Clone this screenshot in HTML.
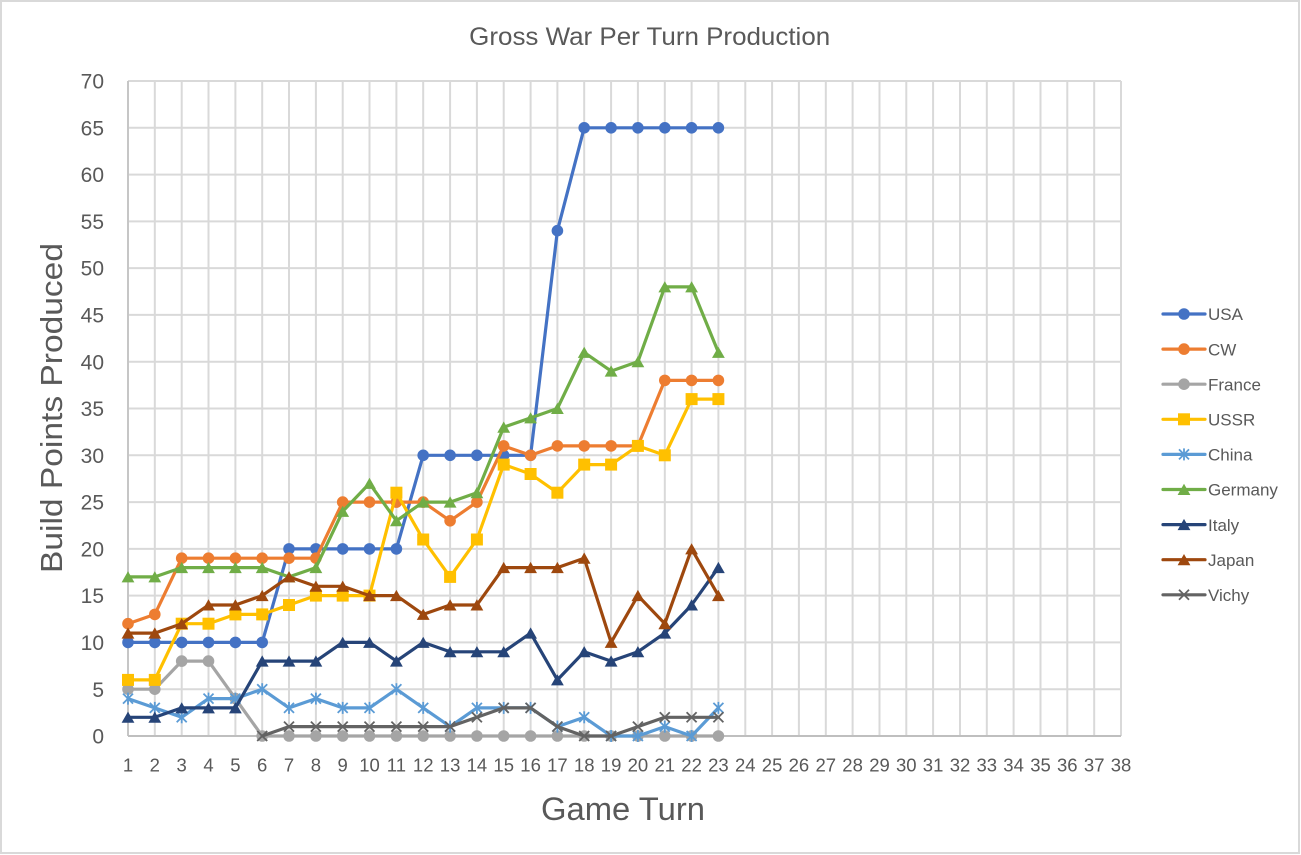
<!DOCTYPE html>
<html>
<head>
<meta charset="utf-8">
<style>
  html,body{margin:0;padding:0;background:#fff;}
  svg{display:block;}
  text{font-family:"Liberation Sans", "DejaVu Sans", sans-serif; fill:#595959;}
</style>
</head>
<body>
<svg width="1301" height="855" viewBox="0 0 1301 855" xmlns="http://www.w3.org/2000/svg">
  <defs>
    <marker id="mUSA" markerUnits="userSpaceOnUse" markerWidth="16" markerHeight="16" refX="8" refY="8" viewBox="0 0 16 16" overflow="visible"><circle cx="8" cy="8" r="5.8" fill="#4472C4"/></marker>
    <marker id="mCW" markerUnits="userSpaceOnUse" markerWidth="16" markerHeight="16" refX="8" refY="8" viewBox="0 0 16 16" overflow="visible"><circle cx="8" cy="8" r="5.8" fill="#ED7D31"/></marker>
    <marker id="mFR" markerUnits="userSpaceOnUse" markerWidth="16" markerHeight="16" refX="8" refY="8" viewBox="0 0 16 16" overflow="visible"><circle cx="8" cy="8" r="5.8" fill="#A5A5A5"/></marker>
    <marker id="mUSSR" markerUnits="userSpaceOnUse" markerWidth="16" markerHeight="16" refX="8" refY="8" viewBox="0 0 16 16" overflow="visible"><rect x="2" y="2" width="12" height="12" fill="#FFC000"/></marker>
    <marker id="mCH" markerUnits="userSpaceOnUse" markerWidth="16" markerHeight="16" refX="8" refY="8" viewBox="0 0 16 16" overflow="visible"><g stroke="#5B9BD5" stroke-width="1.8" fill="none"><line x1="3" y1="3" x2="13" y2="13"/><line x1="13" y1="3" x2="3" y2="13"/><line x1="8" y1="2" x2="8" y2="14"/></g></marker>
    <marker id="mGE" markerUnits="userSpaceOnUse" markerWidth="16" markerHeight="16" refX="8" refY="8" viewBox="0 0 16 16" overflow="visible"><polygon points="8,2.3 14.4,13.5 1.6,13.5" fill="#70AD47"/></marker>
    <marker id="mIT" markerUnits="userSpaceOnUse" markerWidth="16" markerHeight="16" refX="8" refY="8" viewBox="0 0 16 16" overflow="visible"><polygon points="8,2.3 14.4,13.5 1.6,13.5" fill="#264478"/></marker>
    <marker id="mJP" markerUnits="userSpaceOnUse" markerWidth="16" markerHeight="16" refX="8" refY="8" viewBox="0 0 16 16" overflow="visible"><polygon points="8,2.3 14.4,13.5 1.6,13.5" fill="#9E480E"/></marker>
    <marker id="mVI" markerUnits="userSpaceOnUse" markerWidth="16" markerHeight="16" refX="8" refY="8" viewBox="0 0 16 16" overflow="visible"><g stroke="#636363" stroke-width="1.8" fill="none"><line x1="3" y1="3" x2="13" y2="13"/><line x1="13" y1="3" x2="3" y2="13"/></g></marker>
  </defs>

  <!-- outer border -->
  <rect x="1" y="1" width="1298" height="852" fill="#fff" stroke="#d9d9d9" stroke-width="2"/>

  <!-- title -->
  <text x="649.7" y="45" font-size="25" text-anchor="middle" textLength="361" lengthAdjust="spacingAndGlyphs">Gross War Per Turn Production</text>

  <!-- horizontal gridlines -->
  <g stroke="#d9d9d9" stroke-width="2">
    <line x1="128" y1="81" x2="1121" y2="81"/>
    <line x1="128" y1="127.8" x2="1121" y2="127.8"/>
    <line x1="128" y1="174.6" x2="1121" y2="174.6"/>
    <line x1="128" y1="221.4" x2="1121" y2="221.4"/>
    <line x1="128" y1="268.1" x2="1121" y2="268.1"/>
    <line x1="128" y1="314.9" x2="1121" y2="314.9"/>
    <line x1="128" y1="361.7" x2="1121" y2="361.7"/>
    <line x1="128" y1="408.5" x2="1121" y2="408.5"/>
    <line x1="128" y1="455.3" x2="1121" y2="455.3"/>
    <line x1="128" y1="502.1" x2="1121" y2="502.1"/>
    <line x1="128" y1="548.9" x2="1121" y2="548.9"/>
    <line x1="128" y1="595.6" x2="1121" y2="595.6"/>
    <line x1="128" y1="642.4" x2="1121" y2="642.4"/>
    <line x1="128" y1="689.2" x2="1121" y2="689.2"/>
  </g>
  <!-- vertical gridlines -->
  <g stroke="#d9d9d9" stroke-width="2">
    <line x1="154.8" y1="81" x2="154.8" y2="736"/>
    <line x1="181.7" y1="81" x2="181.7" y2="736"/>
    <line x1="208.5" y1="81" x2="208.5" y2="736"/>
    <line x1="235.4" y1="81" x2="235.4" y2="736"/>
    <line x1="262.2" y1="81" x2="262.2" y2="736"/>
    <line x1="289" y1="81" x2="289" y2="736"/>
    <line x1="315.9" y1="81" x2="315.9" y2="736"/>
    <line x1="342.7" y1="81" x2="342.7" y2="736"/>
    <line x1="369.5" y1="81" x2="369.5" y2="736"/>
    <line x1="396.4" y1="81" x2="396.4" y2="736"/>
    <line x1="423.2" y1="81" x2="423.2" y2="736"/>
    <line x1="450.1" y1="81" x2="450.1" y2="736"/>
    <line x1="476.9" y1="81" x2="476.9" y2="736"/>
    <line x1="503.7" y1="81" x2="503.7" y2="736"/>
    <line x1="530.6" y1="81" x2="530.6" y2="736"/>
    <line x1="557.4" y1="81" x2="557.4" y2="736"/>
    <line x1="584.2" y1="81" x2="584.2" y2="736"/>
    <line x1="611.1" y1="81" x2="611.1" y2="736"/>
    <line x1="637.9" y1="81" x2="637.9" y2="736"/>
    <line x1="664.8" y1="81" x2="664.8" y2="736"/>
    <line x1="691.6" y1="81" x2="691.6" y2="736"/>
    <line x1="718.4" y1="81" x2="718.4" y2="736"/>
    <line x1="745.3" y1="81" x2="745.3" y2="736"/>
    <line x1="772.1" y1="81" x2="772.1" y2="736"/>
    <line x1="798.9" y1="81" x2="798.9" y2="736"/>
    <line x1="825.8" y1="81" x2="825.8" y2="736"/>
    <line x1="852.6" y1="81" x2="852.6" y2="736"/>
    <line x1="879.5" y1="81" x2="879.5" y2="736"/>
    <line x1="906.3" y1="81" x2="906.3" y2="736"/>
    <line x1="933.1" y1="81" x2="933.1" y2="736"/>
    <line x1="960" y1="81" x2="960" y2="736"/>
    <line x1="986.8" y1="81" x2="986.8" y2="736"/>
    <line x1="1013.6" y1="81" x2="1013.6" y2="736"/>
    <line x1="1040.5" y1="81" x2="1040.5" y2="736"/>
    <line x1="1067.3" y1="81" x2="1067.3" y2="736"/>
    <line x1="1094.2" y1="81" x2="1094.2" y2="736"/>
    <line x1="1121" y1="81" x2="1121" y2="736"/>
  </g>
  <!-- axes -->
  <line x1="128" y1="81" x2="128" y2="736" stroke="#c6c6c6" stroke-width="2"/>
  <line x1="128" y1="736" x2="1121" y2="736" stroke="#bfbfbf" stroke-width="2"/>

  <!-- y tick labels -->
  <g font-size="21" text-anchor="end">
    <text x="104" y="88.6">70</text>
    <text x="104" y="135.4">65</text>
    <text x="104" y="182.2">60</text>
    <text x="104" y="229">55</text>
    <text x="104" y="275.7">50</text>
    <text x="104" y="322.5">45</text>
    <text x="104" y="369.3">40</text>
    <text x="104" y="416.1">35</text>
    <text x="104" y="462.9">30</text>
    <text x="104" y="509.7">25</text>
    <text x="104" y="556.5">20</text>
    <text x="104" y="603.2">15</text>
    <text x="104" y="650">10</text>
    <text x="104" y="696.8">5</text>
    <text x="104" y="743.6">0</text>
  </g>

  <!-- x tick labels -->
  <g font-size="18.5" text-anchor="middle">
    <text x="128" y="771.5">1</text>
    <text x="154.8" y="771.5">2</text>
    <text x="181.7" y="771.5">3</text>
    <text x="208.5" y="771.5">4</text>
    <text x="235.4" y="771.5">5</text>
    <text x="262.2" y="771.5">6</text>
    <text x="289" y="771.5">7</text>
    <text x="315.9" y="771.5">8</text>
    <text x="342.7" y="771.5">9</text>
    <text x="369.5" y="771.5">10</text>
    <text x="396.4" y="771.5">11</text>
    <text x="423.2" y="771.5">12</text>
    <text x="450.1" y="771.5">13</text>
    <text x="476.9" y="771.5">14</text>
    <text x="503.7" y="771.5">15</text>
    <text x="530.6" y="771.5">16</text>
    <text x="557.4" y="771.5">17</text>
    <text x="584.2" y="771.5">18</text>
    <text x="611.1" y="771.5">19</text>
    <text x="637.9" y="771.5">20</text>
    <text x="664.8" y="771.5">21</text>
    <text x="691.6" y="771.5">22</text>
    <text x="718.4" y="771.5">23</text>
    <text x="745.3" y="771.5">24</text>
    <text x="772.1" y="771.5">25</text>
    <text x="798.9" y="771.5">26</text>
    <text x="825.8" y="771.5">27</text>
    <text x="852.6" y="771.5">28</text>
    <text x="879.5" y="771.5">29</text>
    <text x="906.3" y="771.5">30</text>
    <text x="933.1" y="771.5">31</text>
    <text x="960" y="771.5">32</text>
    <text x="986.8" y="771.5">33</text>
    <text x="1013.6" y="771.5">34</text>
    <text x="1040.5" y="771.5">35</text>
    <text x="1067.3" y="771.5">36</text>
    <text x="1094.2" y="771.5">37</text>
    <text x="1121" y="771.5">38</text>
  </g>

  <!-- axis titles -->
  <text x="623" y="820" font-size="32" text-anchor="middle" textLength="164" lengthAdjust="spacingAndGlyphs">Game Turn</text>
  <text transform="translate(62,408) rotate(-90)" x="0" y="0" font-size="31" text-anchor="middle" textLength="330" lengthAdjust="spacingAndGlyphs">Build Points Produced</text>

  <!-- series -->
  <g fill="none" stroke-width="3.2" stroke-linejoin="round" stroke-linecap="round">
    <polyline stroke="#4472C4" marker-start="url(#mUSA)" marker-mid="url(#mUSA)" marker-end="url(#mUSA)"
      points="128,642.4 154.8,642.4 181.7,642.4 208.5,642.4 235.4,642.4 262.2,642.4 289,548.9 315.9,548.9 342.7,548.9 369.5,548.9 396.4,548.9 423.2,455.3 450.1,455.3 476.9,455.3 503.7,455.3 530.6,455.3 557.4,230.7 584.2,127.8 611.1,127.8 637.9,127.8 664.8,127.8 691.6,127.8 718.4,127.8"/>
    <polyline stroke="#ED7D31" marker-start="url(#mCW)" marker-mid="url(#mCW)" marker-end="url(#mCW)"
      points="128,623.7 154.8,614.4 181.7,558.2 208.5,558.2 235.4,558.2 262.2,558.2 289,558.2 315.9,558.2 342.7,502.1 369.5,502.1 396.4,502.1 423.2,502.1 450.1,520.8 476.9,502.1 503.7,445.9 530.6,455.3 557.4,445.9 584.2,445.9 611.1,445.9 637.9,445.9 664.8,380.4 691.6,380.4 718.4,380.4"/>
    <polyline stroke="#A5A5A5" marker-start="url(#mFR)" marker-mid="url(#mFR)" marker-end="url(#mFR)"
      points="128,689.2 154.8,689.2 181.7,661.1 208.5,661.1 235.4,698.6 262.2,736 289,736 315.9,736 342.7,736 369.5,736 396.4,736 423.2,736 450.1,736 476.9,736 503.7,736 530.6,736 557.4,736 584.2,736 611.1,736 637.9,736 664.8,736 691.6,736 718.4,736"/>
    <polyline stroke="#FFC000" marker-start="url(#mUSSR)" marker-mid="url(#mUSSR)" marker-end="url(#mUSSR)"
      points="128,679.9 154.8,679.9 181.7,623.7 208.5,623.7 235.4,614.4 262.2,614.4 289,605 315.9,595.6 342.7,595.6 369.5,595.6 396.4,492.7 423.2,539.5 450.1,576.9 476.9,539.5 503.7,464.6 530.6,474 557.4,492.7 584.2,464.6 611.1,464.6 637.9,445.9 664.8,455.3 691.6,399.1 718.4,399.1"/>
    <polyline stroke="#5B9BD5" marker-start="url(#mCH)" marker-mid="url(#mCH)" marker-end="url(#mCH)"
      points="128,698.6 154.8,707.9 181.7,717.3 208.5,698.6 235.4,698.6 262.2,689.2 289,707.9 315.9,698.6 342.7,707.9 369.5,707.9 396.4,689.2 423.2,707.9 450.1,726.6 476.9,707.9 503.7,707.9 530.6,707.9 557.4,726.6 584.2,717.3 611.1,736 637.9,736 664.8,726.6 691.6,736 718.4,707.9"/>
    <polyline stroke="#70AD47" marker-start="url(#mGE)" marker-mid="url(#mGE)" marker-end="url(#mGE)"
      points="128,576.9 154.8,576.9 181.7,567.6 208.5,567.6 235.4,567.6 262.2,567.6 289,576.9 315.9,567.6 342.7,511.4 369.5,483.4 396.4,520.8 423.2,502.1 450.1,502.1 476.9,492.7 503.7,427.2 530.6,417.9 557.4,408.5 584.2,352.4 611.1,371.1 637.9,361.7 664.8,286.9 691.6,286.9 718.4,352.4"/>
    <polyline stroke="#264478" marker-start="url(#mIT)" marker-mid="url(#mIT)" marker-end="url(#mIT)"
      points="128,717.3 154.8,717.3 181.7,707.9 208.5,707.9 235.4,707.9 262.2,661.1 289,661.1 315.9,661.1 342.7,642.4 369.5,642.4 396.4,661.1 423.2,642.4 450.1,651.8 476.9,651.8 503.7,651.8 530.6,633.1 557.4,679.9 584.2,651.8 611.1,661.1 637.9,651.8 664.8,633.1 691.6,605 718.4,567.6"/>
    <polyline stroke="#9E480E" marker-start="url(#mJP)" marker-mid="url(#mJP)" marker-end="url(#mJP)"
      points="128,633.1 154.8,633.1 181.7,623.7 208.5,605 235.4,605 262.2,595.6 289,576.9 315.9,586.3 342.7,586.3 369.5,595.6 396.4,595.6 423.2,614.4 450.1,605 476.9,605 503.7,567.6 530.6,567.6 557.4,567.6 584.2,558.2 611.1,642.4 637.9,595.6 664.8,623.7 691.6,548.9 718.4,595.6"/>
    <polyline stroke="#636363" marker-start="url(#mVI)" marker-mid="url(#mVI)" marker-end="url(#mVI)"
      points="262.2,736 289,726.6 315.9,726.6 342.7,726.6 369.5,726.6 396.4,726.6 423.2,726.6 450.1,726.6 476.9,717.3 503.7,707.9 530.6,707.9 557.4,726.6 584.2,736 611.1,736 637.9,726.6 664.8,717.3 691.6,717.3 718.4,717.3"/>
  </g>

  <!-- legend -->
  <g fill="none" stroke-width="3.2" stroke-linecap="round">
    <polyline stroke="#4472C4" points="1163,314 1184,314 1205,314" marker-mid="url(#mUSA)"/>
    <polyline stroke="#ED7D31" points="1163,349.1 1184,349.1 1205,349.1" marker-mid="url(#mCW)"/>
    <polyline stroke="#A5A5A5" points="1163,384.2 1184,384.2 1205,384.2" marker-mid="url(#mFR)"/>
    <polyline stroke="#FFC000" points="1163,419.3 1184,419.3 1205,419.3" marker-mid="url(#mUSSR)"/>
    <polyline stroke="#5B9BD5" points="1163,454.4 1184,454.4 1205,454.4" marker-mid="url(#mCH)"/>
    <polyline stroke="#70AD47" points="1163,489.5 1184,489.5 1205,489.5" marker-mid="url(#mGE)"/>
    <polyline stroke="#264478" points="1163,524.6 1184,524.6 1205,524.6" marker-mid="url(#mIT)"/>
    <polyline stroke="#9E480E" points="1163,559.7 1184,559.7 1205,559.7" marker-mid="url(#mJP)"/>
    <polyline stroke="#636363" points="1163,594.8 1184,594.8 1205,594.8" marker-mid="url(#mVI)"/>
  </g>
  <g font-size="17">
    <text x="1208" y="320.2">USA</text>
    <text x="1208" y="355.3">CW</text>
    <text x="1208" y="390.4">France</text>
    <text x="1208" y="425.5">USSR</text>
    <text x="1208" y="460.6">China</text>
    <text x="1208" y="495.7">Germany</text>
    <text x="1208" y="530.8">Italy</text>
    <text x="1208" y="565.9">Japan</text>
    <text x="1208" y="601">Vichy</text>
  </g>
</svg>
</body>
</html>
